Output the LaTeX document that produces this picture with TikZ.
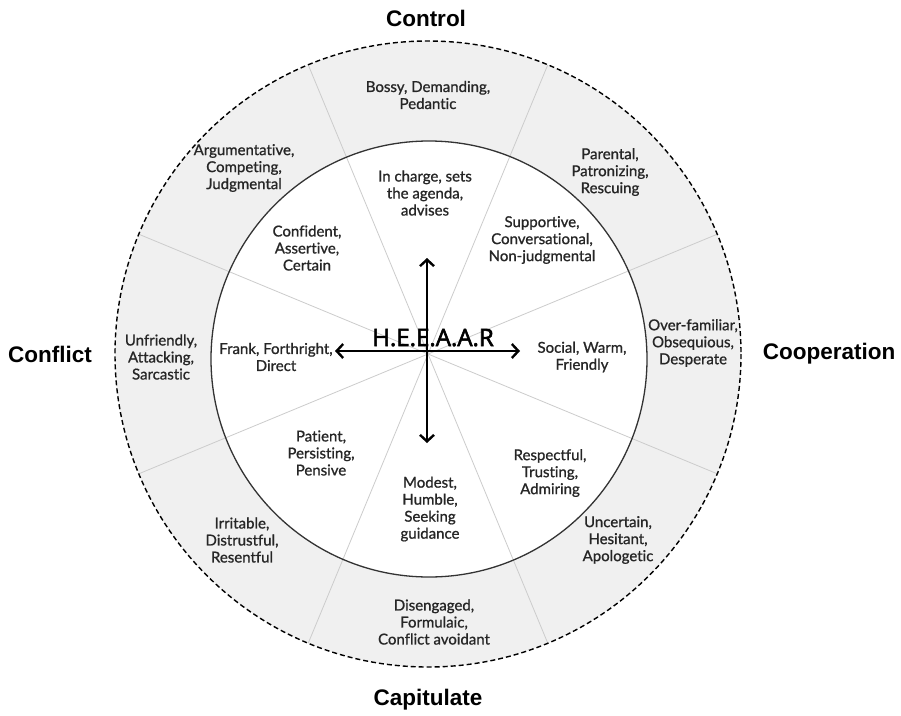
\documentclass[tikz,border=0pt]{standalone}
\usepackage{fontspec}
\setmainfont{Lato}[Ligatures=NoCommon, FakeBold=1]
\newfontfamily\headfont{Liberation Sans}
\newfontfamily\hubfont{Open Sans}[FakeBold=2.5]
\usetikzlibrary{arrows.meta}

\begin{document}
\begin{tikzpicture}[x=1pt,y=-1pt,
  trait/.style={align=center, font=\fontsize{15}{17}\selectfont, text=black!85, inner sep=0pt},
  head/.style={font=\headfont\bfseries\fontsize{22.5}{24}\selectfont, inner sep=0pt},
  spoke/.style={draw=black!20, line width=0.8pt},
  axis/.style={line width=2.4pt, -{Straight Barb[length=6.5pt,width=14pt,line width=2.4pt]}}]
\useasboundingbox (0,0) rectangle (901,715);

% centres of the rings and of the axes
\coordinate (oc) at (428,354);
\coordinate (ic) at (429,359);
\coordinate (c)  at (427,351);

% outer ring and inner disc
\fill[black!6] (oc) circle[radius=313];
\fill[white] (ic) circle[radius=218];
\foreach \a in {22.5,67.5,...,337.5}
  \draw[spoke] (oc) -- ++(\a:313);
\draw[black!80, line width=1.3pt] (ic) circle[radius=218];
\draw[line width=1.4pt, dash pattern=on 5pt off 3pt] (oc) circle[radius=313];

% axes
\coordinate (up)    at (427,258);
\coordinate (down)  at (427,443);
\coordinate (left)  at (335,351);
\coordinate (right) at (520,351);
\draw[axis] (c) -- (up);
\draw[axis] (c) -- (down);
\draw[axis] (c) -- (left);
\draw[axis] (c) -- (right);
\node[font=\hubfont\fontsize{24}{24}\selectfont, anchor=base, inner sep=0pt] (hub) at (433,346) {H.E.E.A.A.R};

% headings
\node[head] (control)     at (426,18)  {Control};
\node[head] (conflict)    at (50,354)  {Conflict};
\node[head] (cooperation) at (829,354) {Cooperation};
\node[head] (capitulate)  at (428,700) {Capitulate};

% inner ring
\node[trait] (t1) at (425,193) {In charge, sets\\the agenda,\\advises};
\node[trait] (t2) at (542,240) {Supportive,\\Conversational,\\Non-judgmental};
\node[trait] (t3) at (582,357) {Social, Warm,\\Friendly};
\node[trait] (t4) at (550,473) {Respectful,\\Trusting,\\Admiring};
\node[trait] (t5) at (430,509) {Modest,\\Humble,\\Seeking\\guidance};
\node[trait] (t6) at (321,453) {Patient,\\Persisting,\\Pensive};
\node[trait] (t7) at (276,357) {Frank, Forthright,\\Direct};
\node[trait] (t8) at (307,248) {Confident,\\Assertive,\\Certain};

% outer ring
\node[trait] (o1) at (428,95)  {Bossy, Demanding,\\Pedantic};
\node[trait] (o2) at (610,172) {Parental,\\Patronizing,\\Rescuing};
\node[trait] (o3) at (693,343) {Over-familiar,\\Obsequious,\\Desperate};
\node[trait] (o4) at (618,540) {Uncertain,\\Hesitant,\\Apologetic};
\node[trait] (o5) at (434,622) {Disengaged,\\Formulaic,\\Conflict avoidant};
\node[trait] (o6) at (242,540) {Irritable,\\Distrustful,\\Resentful};
\node[trait] (o7) at (161,357) {Unfriendly,\\Attacking,\\Sarcastic};
\node[trait] (o8) at (244,168) {Argumentative,\\Competing,\\Judgmental};
\end{tikzpicture}
\end{document}
